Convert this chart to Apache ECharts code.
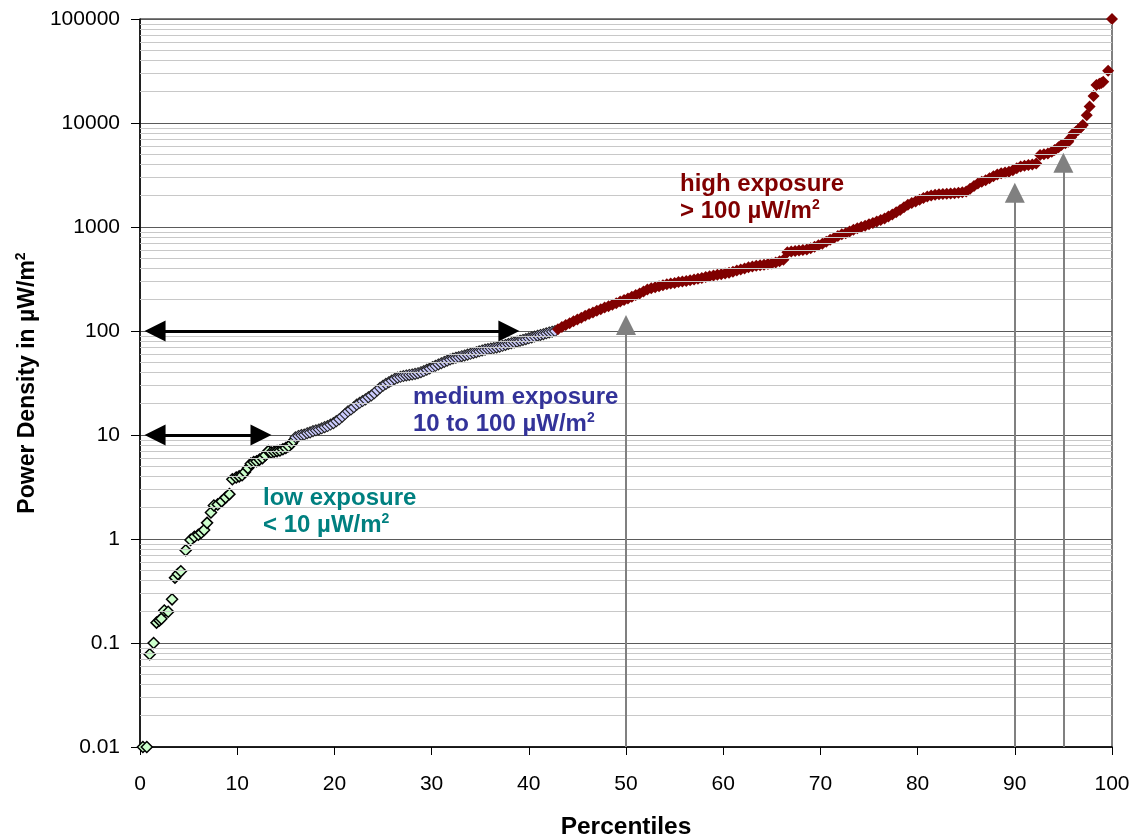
<!DOCTYPE html>
<html>
<head>
<meta charset="utf-8">
<script src="https://cdn.jsdelivr.net/npm/echarts@6/dist/echarts.min.js"></script>
<style>html,body{margin:0;padding:0;background:#fff}#chart{width:1137px;height:839px}</style>
</head>
<body>
<div id="chart"></div>
<script>
// ---- data ----
const yTickLabels = ['0.01', '0.1', '1', '10', '100', '1000', '10000', '100000'];

const lowPercentiles = [0.3, 0.7, 1.0, 1.4, 1.7, 2.0, 2.2, 2.5, 2.9, 3.3, 3.6, 3.9, 4.2, 4.7, 5.2, 5.6, 6.0, 6.3, 6.6, 6.9, 7.3, 7.6, 8.0, 8.4, 8.8, 9.2, 9.5, 9.9, 10.2, 10.5, 10.8, 11.1, 11.4, 11.7, 12.0, 12.3, 12.6, 12.9, 13.2, 13.5, 13.8, 14.1, 14.4, 14.7, 15.0, 15.3, 15.6, 15.8];
const lowValues = [0.01, 0.01, 0.078, 0.1, 0.157, 0.165, 0.171, 0.205, 0.2, 0.263, 0.425, 0.46, 0.49, 0.78, 0.98, 1.05, 1.1, 1.15, 1.22, 1.43, 1.8, 2.1, 2.15, 2.3, 2.5, 2.7, 3.75, 3.9, 4.0, 4.1, 4.4, 4.8, 5.3, 5.5, 5.6, 5.8, 6.0, 6.4, 7.0, 6.8, 6.9, 7.0, 7.1, 7.3, 7.5, 7.8, 8.3, 8.8];

const mediumPercentiles = [16.0, 16.3, 16.6, 16.9, 17.2, 17.5, 17.8, 18.1, 18.4, 18.7, 19.0, 19.3, 19.6, 19.9, 20.2, 20.5, 20.8, 21.1, 21.4, 21.7, 22.0, 22.3, 22.6, 22.9, 23.2, 23.5, 23.8, 24.1, 24.4, 24.7, 25.0, 25.3, 25.6, 25.9, 26.2, 26.5, 26.8, 27.1, 27.4, 27.7, 28.0, 28.3, 28.6, 28.9, 29.2, 29.5, 29.8, 30.1, 30.4, 30.7, 31.0, 31.3, 31.6, 31.9, 32.2, 32.5, 32.8, 33.1, 33.4, 33.7, 34.0, 34.3, 34.6, 34.9, 35.2, 35.5, 35.8, 36.1, 36.4, 36.7, 37.0, 37.3, 37.6, 37.9, 38.2, 38.5, 38.8, 39.1, 39.4, 39.7, 40.0, 40.3, 40.6, 40.9, 41.2, 41.5, 41.8, 42.1, 42.4, 42.7];
const mediumValues = [9.5, 9.8, 10.0, 10.1, 10.4, 10.6, 10.9, 11.1, 11.3, 11.6, 11.9, 12.2, 12.6, 13.0, 13.6, 14.2, 15.0, 15.9, 16.9, 17.6, 18.5, 19.6, 20.4, 21.2, 22.0, 23.1, 24.0, 25.2, 26.8, 28.4, 29.8, 31.0, 32.2, 33.4, 34.6, 35.6, 36.3, 36.9, 37.4, 37.8, 38.2, 38.7, 39.3, 40.2, 41.2, 42.4, 43.6, 45.0, 46.3, 47.7, 49.0, 50.4, 51.8, 53.2, 54.3, 55.3, 56.2, 57.2, 58.2, 59.3, 60.4, 61.5, 62.6, 63.8, 65.0, 66.2, 67.0, 67.8, 68.6, 69.5, 70.6, 72.0, 73.5, 75.0, 76.4, 77.7, 79.0, 80.6, 82.0, 83.5, 85.0, 86.8, 88.5, 90.0, 91.6, 93.2, 95.0, 96.8, 98.5, 99.8];

const highPercentiles = [43.0, 43.4, 43.8, 44.2, 44.6, 45.0, 45.4, 45.8, 46.2, 46.6, 47.0, 47.4, 47.8, 48.2, 48.6, 49.0, 49.4, 49.8, 50.2, 50.6, 51.0, 51.4, 51.8, 52.2, 52.6, 53.0, 53.4, 53.8, 54.2, 54.6, 55.0, 55.4, 55.8, 56.2, 56.6, 57.0, 57.4, 57.8, 58.2, 58.6, 59.0, 59.4, 59.8, 60.2, 60.6, 61.0, 61.4, 61.8, 62.2, 62.6, 63.0, 63.4, 63.8, 64.2, 64.6, 65.0, 65.4, 65.8, 66.2, 66.6, 67.0, 67.4, 67.8, 68.2, 68.6, 69.0, 69.4, 69.8, 70.2, 70.6, 71.0, 71.4, 71.8, 72.2, 72.6, 73.0, 73.4, 73.8, 74.2, 74.6, 75.0, 75.4, 75.8, 76.2, 76.6, 77.0, 77.4, 77.8, 78.2, 78.6, 79.0, 79.4, 79.8, 80.2, 80.6, 81.0, 81.4, 81.8, 82.2, 82.6, 83.0, 83.4, 83.8, 84.2, 84.6, 85.0, 85.4, 85.8, 86.2, 86.6, 87.0, 87.4, 87.8, 88.2, 88.6, 89.0, 89.4, 89.8, 90.2, 90.6, 91.0, 91.4, 91.8, 92.2, 92.6, 93.0, 93.4, 93.8, 94.1, 94.5, 94.8, 95.2, 95.5, 95.8, 96.0, 96.3, 96.5, 96.8, 97.0, 97.4, 97.7, 98.1, 98.4, 98.7, 98.9, 99.1, 99.6, 100.0];
const highValues = [104, 109, 114, 119, 124, 129, 134, 140, 146, 151, 157, 162, 168, 173, 179, 185, 192, 199, 205, 214, 222, 230, 240, 250, 258, 264, 270, 276, 281, 286, 290, 296, 299, 303, 307, 312, 318, 324, 331, 336, 341, 347, 352, 358, 364, 372, 381, 390, 400, 410, 418, 423, 428, 434, 440, 446, 456, 468, 485, 572, 580, 588, 594, 600, 606, 625, 645, 668, 692, 720, 752, 785, 818, 850, 872, 905, 940, 975, 1000, 1030, 1060, 1095, 1130, 1170, 1210, 1260, 1320, 1390, 1460, 1550, 1640, 1700, 1760, 1830, 1900, 1960, 2010, 2040, 2060, 2080, 2090, 2100, 2110, 2130, 2160, 2200, 2330, 2480, 2620, 2720, 2820, 2940, 3080, 3200, 3290, 3340, 3400, 3520, 3680, 3820, 3890, 3940, 4000, 4080, 4920, 5000, 5100, 5300, 5500, 5850, 6140, 6400, 6600, 7300, 7940, 8300, 8570, 9100, 9560, 11900, 14400, 18200, 23200, 23800, 24300, 24900, 31800, 100000];

// annotation arrows (percentile, value)
const rangeArrowLevels = [100, 10];
const rangeArrowStart = [1.55, 1.55];
const rangeArrowEnd = [37.95, 12.45];
const markerArrowPercentiles = [50, 90, 95];
const markerArrowTips = [114, 2140, 4150];

// ---- chart ----
const FONT = '"Liberation Sans", Arial, Helvetica, sans-serif';
const zip = (xs, ys) => xs.map((x, i) => [x, ys[i]]);

const minorGrid = [];
for (let e = -2; e < 5; e++) {
  for (let m = 2; m <= 9; m++) minorGrid.push({ yAxis: m * Math.pow(10, e) });
}

const chart = echarts.init(document.getElementById('chart'), null, { renderer: 'canvas' });

function annText(left, top, lines, color) {
  return {
    type: 'text', left: left, top: top, z: 100,
    style: {
      text: lines,
      font: 'bold 24px ' + FONT,
      fill: color,
      lineHeight: 27,
      rich: {
        s: { fontSize: 14, fontWeight: 'bold', fontFamily: FONT, fill: color, verticalAlign: 'top', lineHeight: 27 }
      }
    }
  };
}

const option = {
  animation: false,
  backgroundColor: '#fff',
  textStyle: { fontFamily: FONT },
  grid: {
    left: 140, right: 25, top: 19, bottom: 92,
    show: true, borderColor: '#000', borderWidth: 1,
    outerBoundsMode: 'none'
  },
  xAxis: {
    type: 'value', min: 0, max: 100, interval: 10,
    axisLine: { show: true, onZero: false, lineStyle: { color: '#000', width: 1.5 } },
    axisTick: { show: true, length: 8, lineStyle: { color: '#000' } },
    axisLabel: { fontSize: 21, color: '#000', margin: 27, fontFamily: FONT },
    splitLine: { show: false },
    name: 'Percentiles', nameLocation: 'middle', nameGap: 68,
    nameTextStyle: { fontSize: 24.5, fontWeight: 'bold', color: '#000', fontFamily: FONT }
  },
  yAxis: {
    type: 'log', logBase: 10, min: 0.01, max: 100000, splitNumber: 7,
    axisLine: { show: true, onZero: false, lineStyle: { color: '#000', width: 1.5 } },
    axisTick: { show: true, length: 9, lineStyle: { color: '#000' } },
    axisLabel: {
      fontSize: 21, color: '#000', margin: 20, fontFamily: FONT,
      formatter: function (v) {
        const i = Math.round(Math.log10(v)) + 2;
        return yTickLabels[i] !== undefined ? yTickLabels[i] : '';
      }
    },
    splitLine: { show: true, lineStyle: { color: '#5a5a5a', width: 1 } },
    name: 'Power Density in µW/m{s|2}', nameLocation: 'middle', nameGap: 96,
    nameTextStyle: {
      fontSize: 23, fontWeight: 'bold', color: '#000', fontFamily: FONT,
      rich: { s: { fontSize: 14, fontWeight: 'bold', color: '#000', fontFamily: FONT, verticalAlign: 'top', lineHeight: 27 } }
    }
  },
  graphic: [
    annText(680, 171, 'high exposure\n> 100 µW/m{s|2}', '#800000'),
    annText(413, 384, 'medium exposure\n10 to 100 µW/m{s|2}', '#333399'),
    annText(263, 485, 'low exposure\n< 10 µW/m{s|2}', '#008080')
  ],
  series: [
    {
      name: 'minor-grid', type: 'scatter', data: [], silent: true, z: 1,
      markLine: {
        silent: true, symbol: ['none', 'none'], label: { show: false },
        lineStyle: { color: '#c8c8c8', width: 1, type: 'solid' },
        emphasis: { disabled: true },
        data: minorGrid
      }
    },
    {
      name: 'low', type: 'scatter', z: 3, clip: false, silent: true,
      symbol: 'diamond', symbolSize: 11,
      itemStyle: { color: '#ccffcc', borderColor: '#000', borderWidth: 1.5, opacity: 1 },
      data: zip(lowPercentiles, lowValues)
    },
    {
      name: 'medium', type: 'scatter', z: 3, clip: false, silent: true,
      symbol: 'diamond', symbolSize: 11,
      itemStyle: { color: '#ccccff', borderColor: '#222', borderWidth: 1.1, opacity: 1 },
      data: zip(mediumPercentiles, mediumValues)
    },
    {
      name: 'high', type: 'scatter', z: 3, clip: false, silent: true,
      symbol: 'diamond', symbolSize: 12,
      itemStyle: { color: '#800000', borderWidth: 0, opacity: 1 },
      data: zip(highPercentiles, highValues)
    },
    {
      name: 'range-arrows', type: 'scatter', data: [], silent: true, z: 5,
      markLine: {
        silent: true, symbol: ['triangle', 'triangle'], symbolSize: 21,
        label: { show: false }, emphasis: { disabled: true },
        lineStyle: { color: '#000', width: 3, type: 'solid' },
        itemStyle: { color: '#000' },
        data: rangeArrowLevels.map((lv, i) => [{ coord: [rangeArrowStart[i], lv] }, { coord: [rangeArrowEnd[i], lv] }])
      }
    },
    {
      name: 'marker-arrows', type: 'scatter', data: [], silent: true, z: 5,
      markLine: {
        silent: true, symbol: ['none', 'triangle'], symbolSize: 20,
        label: { show: false }, emphasis: { disabled: true },
        lineStyle: { color: '#808080', width: 2, type: 'solid' },
        itemStyle: { color: '#808080' },
        data: markerArrowPercentiles.map((p, i) => [{ coord: [p, 0.01] }, { coord: [p, markerArrowTips[i]] }])
      }
    }
  ]
};

chart.setOption(option);
</script>
</body>
</html>
